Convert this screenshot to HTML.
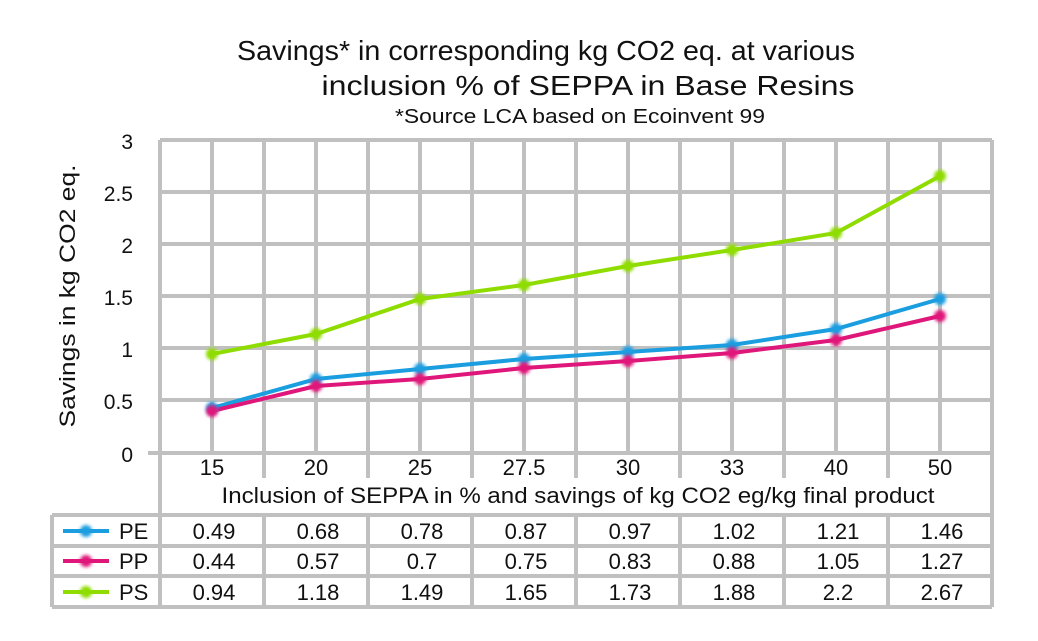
<!DOCTYPE html>
<html><head><meta charset="utf-8"><style>
html,body{margin:0;padding:0;background:#fff;}
svg{display:block;font-family:"Liberation Sans",Arial,sans-serif;}
</style></head><body>
<svg width="1038" height="641" viewBox="0 0 1038 641" xmlns="http://www.w3.org/2000/svg">
<defs>
<filter id="b" x="-1" y="-1" width="3" height="3"><feGaussianBlur stdDeviation="1.6"/></filter>
</defs>
<rect width="1038" height="641" fill="#fff"/>
<text x="546" y="60" font-size="28" text-anchor="middle" fill="#111" textLength="618" lengthAdjust="spacingAndGlyphs">Savings* in corresponding kg CO2 eq. at various</text>
<text x="588" y="95" font-size="28" text-anchor="middle" fill="#111" textLength="533" lengthAdjust="spacingAndGlyphs">inclusion % of SEPPA in Base Resins</text>
<text x="580" y="123" font-size="20" text-anchor="middle" fill="#111" textLength="370" lengthAdjust="spacingAndGlyphs">*Source LCA based on Ecoinvent 99</text>
<g stroke="#c0c0c0" stroke-width="4" fill="none">
<line x1="160" y1="140" x2="992" y2="140"/>
<line x1="160" y1="192" x2="992" y2="192"/>
<line x1="160" y1="244" x2="992" y2="244"/>
<line x1="160" y1="296" x2="992" y2="296"/>
<line x1="160" y1="348" x2="992" y2="348"/>
<line x1="160" y1="400" x2="992" y2="400"/>
<line x1="148" y1="453" x2="992" y2="453"/>
<line x1="212" y1="140" x2="212" y2="453"/>
<line x1="316" y1="140" x2="316" y2="453"/>
<line x1="420" y1="140" x2="420" y2="453"/>
<line x1="524" y1="140" x2="524" y2="453"/>
<line x1="628" y1="140" x2="628" y2="453"/>
<line x1="732" y1="140" x2="732" y2="453"/>
<line x1="836" y1="140" x2="836" y2="453"/>
<line x1="940" y1="140" x2="940" y2="453"/>
<line x1="160" y1="140" x2="160" y2="607"/>
<line x1="264" y1="140" x2="264" y2="478"/>
<line x1="368" y1="140" x2="368" y2="478"/>
<line x1="472" y1="140" x2="472" y2="478"/>
<line x1="576" y1="140" x2="576" y2="478"/>
<line x1="680" y1="140" x2="680" y2="478"/>
<line x1="784" y1="140" x2="784" y2="478"/>
<line x1="888" y1="140" x2="888" y2="478"/>
<line x1="992" y1="140" x2="992" y2="607"/>
<line x1="52" y1="515" x2="992" y2="515"/>
<line x1="52" y1="546" x2="992" y2="546"/>
<line x1="52" y1="576" x2="992" y2="576"/>
<line x1="52" y1="607" x2="992" y2="607"/>
<line x1="52" y1="515" x2="52" y2="607"/>
<line x1="264" y1="515" x2="264" y2="607"/>
<line x1="368" y1="515" x2="368" y2="607"/>
<line x1="472" y1="515" x2="472" y2="607"/>
<line x1="576" y1="515" x2="576" y2="607"/>
<line x1="680" y1="515" x2="680" y2="607"/>
<line x1="784" y1="515" x2="784" y2="607"/>
<line x1="888" y1="515" x2="888" y2="607"/>
</g>
<g font-size="21" fill="#111" text-anchor="end">
<text x="133" y="149">3</text><text x="133" y="201">2.5</text><text x="133" y="253">2</text>
<text x="133" y="305">1.5</text><text x="133" y="357">1</text><text x="133" y="409">0.5</text><text x="133" y="462">0</text>
</g>
<text transform="translate(75,296) rotate(-90)" font-size="22" text-anchor="middle" fill="#111" textLength="263" lengthAdjust="spacingAndGlyphs">Savings in kg CO2 eq.</text>
<g font-size="22" fill="#111" text-anchor="middle">
<text x="212" y="475">15</text><text x="316" y="475">20</text><text x="420" y="475">25</text><text x="524" y="475">27.5</text>
<text x="628" y="475">30</text><text x="732" y="475">33</text><text x="836" y="475">40</text><text x="940" y="475">50</text>
<text x="578" y="503" textLength="713" lengthAdjust="spacingAndGlyphs">Inclusion of SEPPA in % and savings of kg CO2 eg/kg final product</text>
</g>
<g font-size="22" fill="#111" text-anchor="middle">
<text x="214" y="539">0.49</text><text x="318" y="539">0.68</text><text x="422" y="539">0.78</text><text x="526" y="539">0.87</text><text x="630" y="539">0.97</text><text x="734" y="539">1.02</text><text x="838" y="539">1.21</text><text x="942" y="539">1.46</text>
<text x="214" y="569">0.44</text><text x="318" y="569">0.57</text><text x="422" y="569">0.7</text><text x="526" y="569">0.75</text><text x="630" y="569">0.83</text><text x="734" y="569">0.88</text><text x="838" y="569">1.05</text><text x="942" y="569">1.27</text>
<text x="214" y="600">0.94</text><text x="318" y="600">1.18</text><text x="422" y="600">1.49</text><text x="526" y="600">1.65</text><text x="630" y="600">1.73</text><text x="734" y="600">1.88</text><text x="838" y="600">2.2</text><text x="942" y="600">2.67</text>
</g>
<g font-size="22" fill="#111">
<text x="119" y="539">PE</text><text x="119" y="569">PP</text><text x="119" y="600">PS</text>
</g>
<g stroke-width="4" fill="none">
<line x1="63" y1="531" x2="109" y2="531" stroke="#1a9ee0"/>
<line x1="63" y1="561" x2="109" y2="561" stroke="#e0177a"/>
<line x1="63" y1="592" x2="109" y2="592" stroke="#8fdc00"/>
</g>
<g filter="url(#b)">
<circle cx="86" cy="531" r="6" fill="#1a9ee0"/>
<circle cx="86" cy="561" r="6" fill="#e0177a"/>
<circle cx="86" cy="592" r="6" fill="#8fdc00"/>
</g>
<polyline fill="none" stroke="#8fdc00" stroke-width="4" points="212,354 316,334 420,299 524,285 628,266 732,250 836,233 940,176"/>
<polyline fill="none" stroke="#1a9ee0" stroke-width="4" points="212,408 316,379 420,369 524,359 628,352 732,345 836,329 940,299"/>
<polyline fill="none" stroke="#e0177a" stroke-width="4" points="212,411 316,386 420,379 524,368 628,361 732,353 836,340 940,316"/>
<g filter="url(#b)" fill="#8fdc00">
<circle cx="212" cy="354" r="6"/><circle cx="316" cy="334" r="6"/><circle cx="420" cy="299" r="6"/><circle cx="524" cy="285" r="6"/><circle cx="628" cy="266" r="6"/><circle cx="732" cy="250" r="6"/><circle cx="836" cy="233" r="6"/><circle cx="940" cy="176" r="6"/>
</g>
<g filter="url(#b)" fill="#1a9ee0">
<circle cx="212" cy="408" r="6"/><circle cx="316" cy="379" r="6"/><circle cx="420" cy="369" r="6"/><circle cx="524" cy="359" r="6"/><circle cx="628" cy="352" r="6"/><circle cx="732" cy="345" r="6"/><circle cx="836" cy="329" r="6"/><circle cx="940" cy="299" r="6"/>
</g>
<g filter="url(#b)" fill="#e0177a">
<circle cx="212" cy="411" r="6"/><circle cx="316" cy="386" r="6"/><circle cx="420" cy="379" r="6"/><circle cx="524" cy="368" r="6"/><circle cx="628" cy="361" r="6"/><circle cx="732" cy="353" r="6"/><circle cx="836" cy="340" r="6"/><circle cx="940" cy="316" r="6"/>
</g>
</svg>
</body></html>
